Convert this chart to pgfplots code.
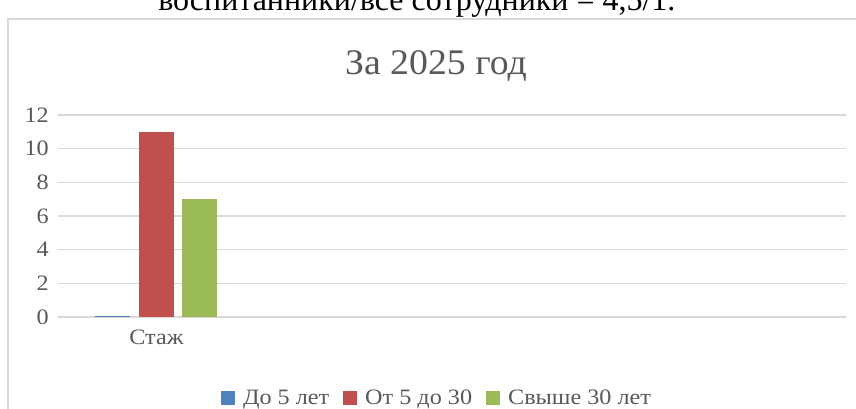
\documentclass[border=0pt]{standalone}
\usepackage{fontspec}
\setmainfont{Liberation Serif}
\newfontfamily\chartfont[FakeStretch=1.1]{Liberation Serif}
\newfontfamily\titlefont[FakeStretch=1.05]{Liberation Serif}
\usepackage{pgfplots}
\pgfplotsset{compat=1.18}
\definecolor{cblue}{HTML}{4F81BD}
\definecolor{cred}{HTML}{C0504D}
\definecolor{cgreen}{HTML}{9BBB59}
\definecolor{cgrid}{HTML}{D9D9D9}
\definecolor{ctext}{HTML}{595959}
\begin{document}
\begin{tikzpicture}
\clip (0,0) rectangle (642pt,306.75pt);
\fill[white] (0,0) rectangle (642pt,306.75pt);
\draw[color=cgrid, line width=1.1pt] (6pt,-10pt) -- (6pt,292.5pt) -- (660pt,292.5pt);
\node[anchor=base west, inner sep=0pt, font=\fontsize{24}{28}\selectfont] at (118.5pt,298.5pt) {воспитанники/все сотрудники = 4,5/1.};
\node[anchor=base, inner sep=0pt, text=ctext, font=\titlefont\fontsize{27}{32}\selectfont] at (327pt,250.5pt) {За 2025 год};
\begin{axis}[
  at={(43.5pt,69pt)}, anchor=south west,
  scale only axis, width=591pt, height=151.5pt,
  xmin=0.5, xmax=4.5, ymin=0, ymax=12,
  xtick={1}, xticklabels={Стаж},
  ytick={0,2,4,6,8,10,12},
  /pgf/number format/assume math mode=true,
  axis line style={draw=none},
  major tick length=0pt,
  tick style={draw=none},
  ymajorgrids,
  grid style={color=cgrid, line width=1.1pt},
  ticklabel style={font=\chartfont\fontsize{16.5}{19}\selectfont, text=ctext, inner sep=0pt},
  xticklabel style={anchor=base, yshift=-21pt},
  yticklabel style={anchor=east, xshift=-6.75pt},
  ybar, bar width=26.25pt,
  clip=false,
  legend columns=3,
  legend image code/.code={\fill[#1] (0pt,-5.25pt) rectangle (10.5pt,5.25pt);},
  legend style={at={(0.2069,-0.401)}, anchor=west, draw=none, fill=none,
    inner sep=0pt, outer sep=0pt,
    font=\chartfont\fontsize{16.5}{19}\selectfont, text=ctext,
    nodes={inner sep=0pt},
    /tikz/every odd column/.append style={column sep=6pt},
    /tikz/every even column/.append style={column sep=10.5pt}},
  legend cell align=left,
]
\addplot[fill=cblue, draw=none, bar shift=-33pt] coordinates {(1,0.05)};
\addplot[fill=cred, draw=none, bar shift=0pt] coordinates {(1,11)};
\addplot[fill=cgreen, draw=none, bar shift=32.25pt] coordinates {(1,7)};
\legend{До 5 лет, От 5 до 30, Свыше 30 лет}
\end{axis}
\end{tikzpicture}
\end{document}
